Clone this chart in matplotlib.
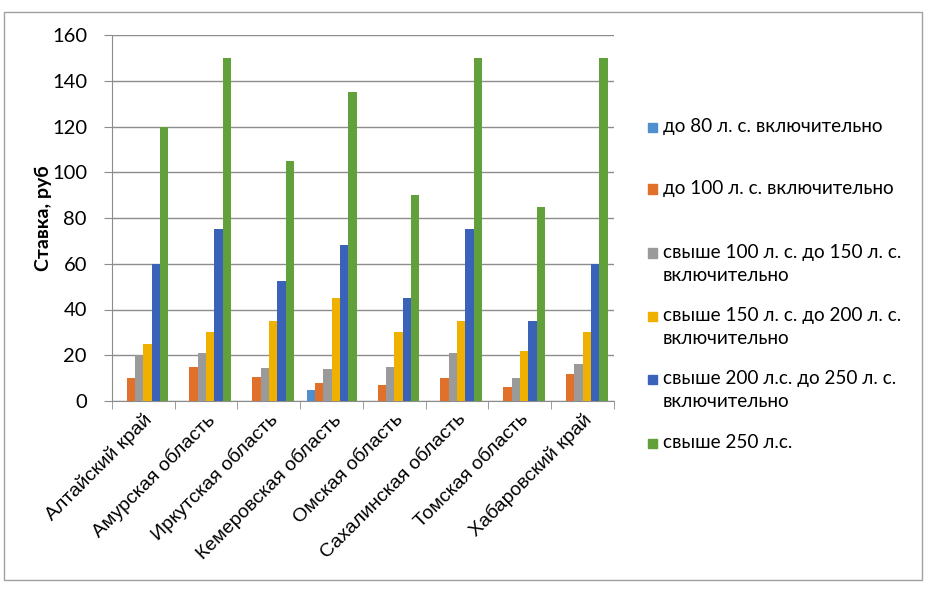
import matplotlib
matplotlib.use("Agg")
import matplotlib.pyplot as plt
import numpy as np
from matplotlib.patches import Rectangle

regions = ["Алтайский край", "Амурская область", "Иркутская область",
           "Кемеровская область", "Омская область", "Сахалинская область",
           "Томская область", "Хабаровский край"]
series_names = ["до 80 л. с. включительно",
                "до 100 л. с. включительно",
                "свыше 100 л. с. до 150 л. с.\nвключительно",
                "свыше 150 л. с. до 200 л. с.\nвключительно",
                "свыше 200 л.с. до 250 л. с.\nвключительно",
                "свыше 250 л.с."]
hp80 = [0, 0, 0, 5, 0, 0, 0, 0]
hp100 = [10, 15, 10.5, 8, 7, 10, 6, 12]
hp150 = [20, 21, 14.5, 14, 15, 21, 10, 16]
hp200 = [25, 30, 35, 45, 30, 35, 22, 30]
hp250 = [60, 75, 52.5, 68, 45, 75, 35, 60]
hp_over = [120, 150, 105, 135, 90, 150, 85, 150]
all_series = [hp80, hp100, hp150, hp200, hp250, hp_over]
colors = ["#4f8fcf", "#e0702a", "#9a9a9a", "#f0b000", "#3a62b8", "#62a03c"]

W, H = 928, 589
fig = plt.figure(figsize=(W / 100, H / 100), dpi=100)
ax = fig.add_axes([112 / W, (H - 401) / H, (614 - 112) / W, (401 - 35) / H])

x = np.arange(len(regions))
bw = 0.8 / 6
for i, (vals, c) in enumerate(zip(all_series, colors)):
    ax.bar(x - 0.4 + bw * (i + 0.5), vals, width=bw, color=c, zorder=3)

ax.set_xlim(-0.5, len(regions) - 0.5)
ax.set_ylim(0, 160)
ax.set_yticks(np.arange(0, 161, 20))
ax.yaxis.grid(True, color="#8c8c8c", linewidth=1.0, zorder=0)
ax.set_xticks(x)
ax.set_xticklabels(regions, rotation=45, ha="right", rotation_mode="anchor",
                   fontsize=14, family="Liberation Sans")
ax.tick_params(axis="x", length=0, pad=7)
ax.set_xticks(np.arange(-0.5, len(regions)), minor=True)
ax.tick_params(axis="x", which="minor", length=6, color="#8c8c8c")
ax.tick_params(axis="y", length=6, color="#8c8c8c", labelsize=14.5, pad=12)
for lab in ax.get_yticklabels():
    lab.set_family("Lato")
for s in ["top", "right"]:
    ax.spines[s].set_visible(False)
for s in ["left", "bottom"]:
    ax.spines[s].set_color("#8c8c8c")
ax.set_ylabel("Ставка, руб", fontsize=14, fontweight="bold", family="Lato", labelpad=0)

# legend drawn manually
leg_y = [127, 189, 253, 316, 379, 443]
for name, c, yy in zip(series_names, colors, leg_y):
    fig.patches.append(Rectangle((648 / W, (H - yy - 4.5) / H), 9 / W, 9 / H,
                                 transform=fig.transFigure, color=c))
    fig.text(663 / W, (H - yy + 9) / H, name, fontsize=13.6, family="Lato",
             va="top", ha="left", linespacing=1.4)

# outer frame
fig.patches.append(Rectangle((4 / W, (H - 580) / H), 918 / W, 568 / H,
                             transform=fig.transFigure, fill=False,
                             edgecolor="#a0a0a0", linewidth=1))

fig.savefig("out.png", dpi=100)
